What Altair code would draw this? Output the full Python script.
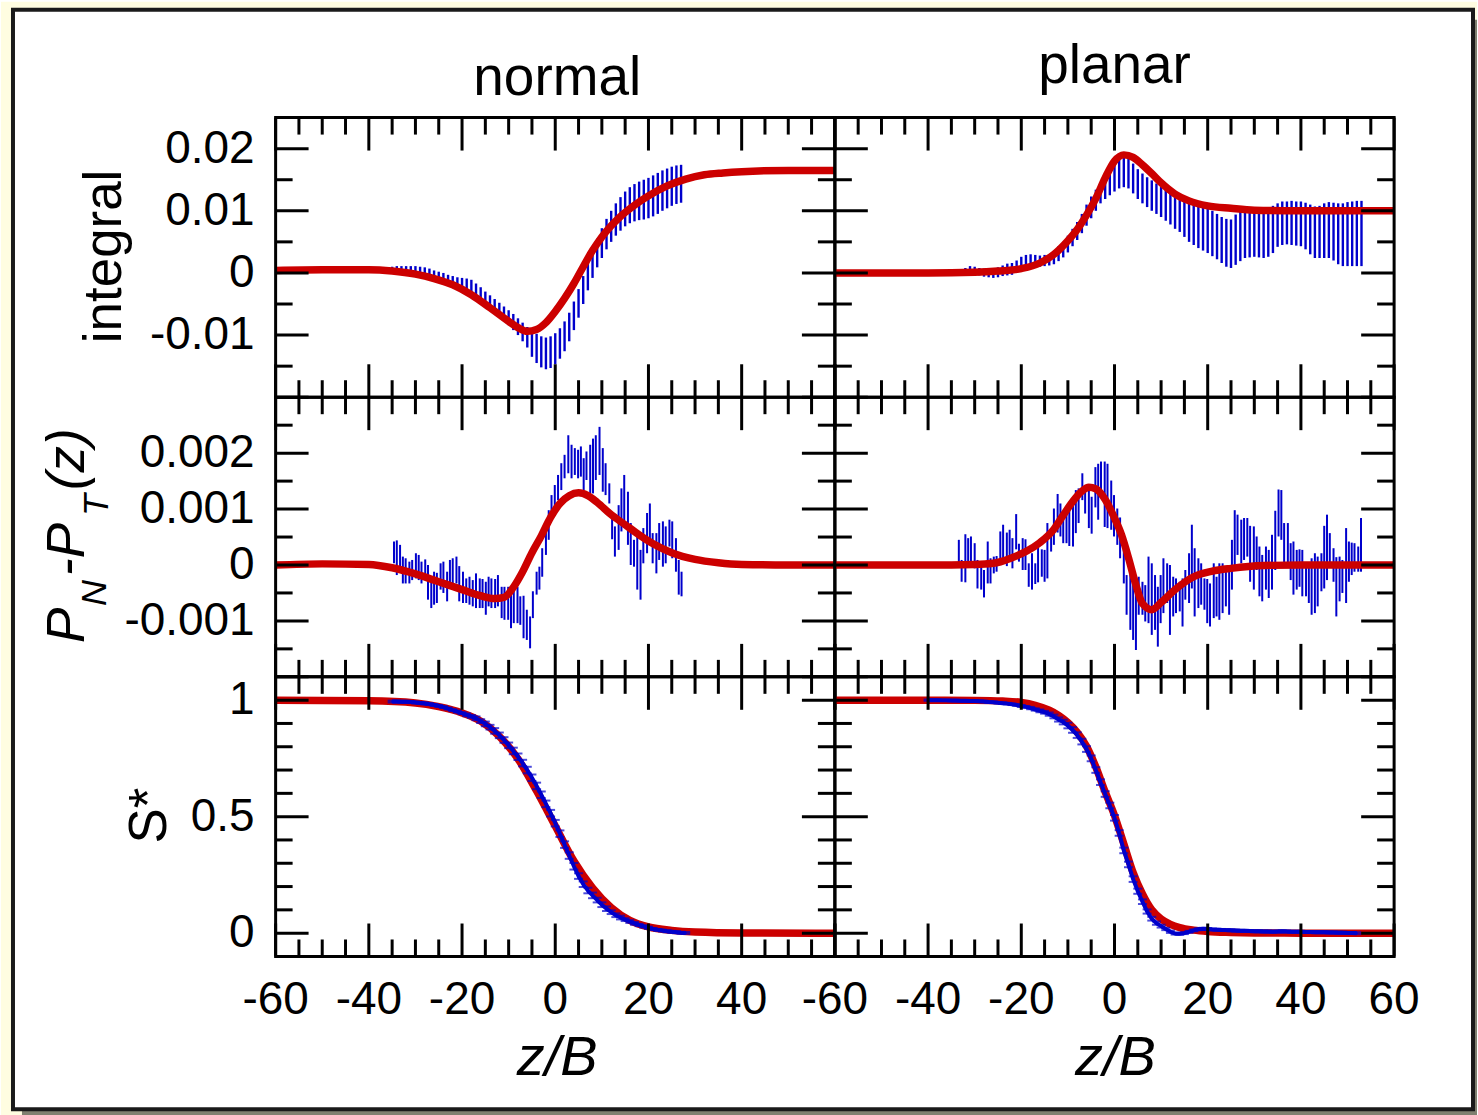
import altair as alt
import pandas as pd

FONT = "Liberation Sans"
RED = "#cc0000"
BLUE = "#0000cc"
PW, PH = 560, 280
MAJ_LEN, MIN_LEN = 33, 17

# ---------------- axes: ticks and labels ----------------
X_DOMAIN = [-60, 60]
X_MAJOR = [-60, -40, -20, 0, 20, 40, 60]
X_MINOR = [-55, -50, -45, -35, -30, -25, -15, -10, -5, 5, 10, 15, 25, 30, 35, 45, 50, 55]
X_LABELS_NORMAL = [-60, -40, -20, 0, 20, 40]
X_TEXT_NORMAL = ["-60", "-40", "-20", "0", "20", "40"]
X_LABELS_PLANAR = [-60, -40, -20, 0, 20, 40, 60]
X_TEXT_PLANAR = ["-60", "-40", "-20", "0", "20", "40", "60"]

INT_DOMAIN = [-0.02, 0.025]
INT_MAJOR = [-0.02, -0.01, 0.0, 0.01, 0.02]
INT_MINOR = [-0.015, -0.005, 0.005, 0.015]
INT_LABELS = [-0.01, 0.0, 0.01, 0.02]
INT_TEXT = ["-0.01", "0", "0.01", "0.02"]

PP_DOMAIN = [-0.002, 0.003]
PP_MAJOR = [-0.002, -0.001, 0.0, 0.001, 0.002]
PP_MINOR = [-0.0015, -0.0005, 0.0005, 0.0015, 0.0025]
PP_LABELS = [-0.001, 0.0, 0.001, 0.002]
PP_TEXT = ["-0.001", "0", "0.001", "0.002"]

S_DOMAIN = [-0.1, 1.1]
S_MAJOR = [0.0, 0.5, 1.0]
S_MINOR = [0.1, 0.2, 0.3, 0.4, 0.6, 0.7, 0.8, 0.9]
S_LABELS = [0.0, 0.5, 1.0]
S_TEXT = ["0", "0.5", "1"]

# ---------------- integral, normal ----------------
TL_RED_Z = [-60, -50, -40, -35, -30, -26, -22, -18, -14, -10, -8, -6, -4, -2, 0, 2, 4, 6, 8, 10,
            12, 14, 17, 20, 24, 28, 32, 36, 40, 50, 60]
TL_RED_V = [0.0004, 0.0005, 0.0005, 0.0003, -0.0002, -0.0009, -0.0019, -0.0035, -0.0056, -0.0078,
            -0.0088, -0.0094, -0.0091, -0.0080, -0.0062, -0.0041, -0.0017, 0.0010, 0.0036, 0.0058,
            0.0076, 0.0091, 0.0109, 0.0124, 0.0140, 0.0151, 0.0158, 0.0161, 0.0163, 0.0165, 0.0165]
TL_BAR_Z = [-35, -34, -33, -32, -31, -30, -29, -28, -27, -26, -25, -24, -23, -22, -21, -20, -19, -18,
            -17, -16, -15, -14, -13, -12, -11, -10, -9, -8, -7, -6, -5, -4, -3, -2, -1, 0, 1, 2, 3,
            4, 5, 6, 7, 8, 9, 10, 11, 12, 13, 14, 15, 16, 17, 18, 19, 20, 21, 22, 23, 24, 25, 26, 27]
TL_BAR_HI = [0.0010, 0.0011, 0.0011, 0.0011, 0.0011, 0.0011, 0.0010, 0.0009, 0.0007, 0.0004,
             0.0002, 0.0000, -0.0003, -0.0005, -0.0007, -0.0008, -0.0009, -0.0011, -0.0017, -0.0023,
             -0.0030, -0.0036, -0.0042, -0.0048, -0.0054, -0.0060, -0.0066, -0.0073, -0.0080, -0.0087,
             -0.0093, -0.0098, -0.0102, -0.0104, -0.0102, -0.0097, -0.0089, -0.0078, -0.0064, -0.0046,
             -0.0026, -0.0005, 0.0016, 0.0036, 0.0055, 0.0072, 0.0087, 0.0100, 0.0112, 0.0122,
             0.0131, 0.0138, 0.0143, 0.0147, 0.0150, 0.0153, 0.0157, 0.0161, 0.0165, 0.0168,
             0.0171, 0.0173, 0.0174]
TL_BAR_LO = [-0.0001, -0.0001, -0.0002, -0.0002, -0.0003, -0.0004, -0.0005, -0.0006, -0.0008, -0.0010,
             -0.0012, -0.0014, -0.0018, -0.0022, -0.0026, -0.0030, -0.0033, -0.0036, -0.0041, -0.0046,
             -0.0052, -0.0058, -0.0064, -0.0070, -0.0077, -0.0084, -0.0092, -0.0100, -0.0110, -0.0120,
             -0.0135, -0.0145, -0.0152, -0.0155, -0.0153, -0.0147, -0.0138, -0.0126, -0.0110, -0.0092,
             -0.0072, -0.0050, -0.0028, -0.0008, 0.0009, 0.0024, 0.0038, 0.0050, 0.0060, 0.0068,
             0.0075, 0.0080, 0.0083, 0.0085, 0.0086, 0.0088, 0.0091, 0.0095, 0.0100, 0.0104,
             0.0108, 0.0111, 0.0113]

# ---------------- integral, planar (values in units of 1e-4) ----------------
TR_RED_Z = [-60, -40, -30, -25, -20, -16, -13, -10, -8, -6, -4, -2, 0, 2, 4, 6, 8, 10, 13, 16, 20,
            25, 30, 40, 50, 60]
TR_RED_V = [0, 0, 1, 3, 7, 16, 30, 52, 70, 93, 120, 153, 180, 190, 186, 174, 160, 145, 127, 116, 108,
            104, 101, 100, 100, 100]
TR_BAR_Z = [-33, -32, -31, -30, -29, -28, -27, -26, -25, -24, -23, -22, -21, -20, -19, -18, -17, -16,
            -15, -14, -13, -12, -11, -10, -9, -8, -7, -6, -5, -4, -3, -2, -1, 0, 1, 2, 3, 4, 5, 6,
            7, 8, 9, 10, 11, 12, 13, 14, 15, 16, 17, 18, 19, 20, 21, 22, 23, 24, 25, 26, 27, 28, 29,
            30, 31, 32, 33, 34, 35, 36, 37, 38, 39, 40, 41, 42, 43, 44, 45, 46, 47, 48, 49, 50, 51,
            52, 53]
TR_BAR_HI = [6, 8, 11, 10, 8, 7, 8, 8, 9, 12, 15, 16, 20, 26, 29, 30, 29, 28, 29, 30,
             34, 43, 50, 60, 71, 82, 95, 110, 123, 134, 145, 158, 170, 180, 187, 189, 185, 176, 167, 160,
             154, 149, 144, 139, 135, 131, 128, 125, 121, 116, 113, 110, 107, 104, 100, 95, 90, 87, 86, 94,
             100, 104, 105, 105, 105, 105, 106, 108, 112, 115, 115, 116, 115, 115, 113, 110, 107, 108, 112, 114,
             113, 112, 112, 114, 115, 116, 116]
TR_BAR_LO = [-3, -2, -1, -3, -4, -6, -7, -8, -7, -5, -4, -3, 0, 6, 10, 11, 11, 10, 11, 12,
             14, 19, 25, 33, 43, 53, 64, 76, 88, 100, 112, 119, 125, 131, 136, 138, 136, 128, 119, 112,
             106, 100, 95, 90, 84, 78, 71, 66, 58, 50, 45, 40, 36, 32, 27, 22, 16, 10, 8, 13,
             19, 24, 25, 26, 25, 24, 26, 32, 42, 45, 46, 45, 44, 43, 38, 30, 24, 24, 24, 24,
             20, 14, 11, 11, 11, 11, 11]

# ---------------- PN-PT, normal (values in units of 1e-4) ----------------
ML_RED_Z = [-60, -50, -40, -35, -30, -25, -20, -16, -13, -11, -9, -7, -5, -3, -1, 1, 3, 5, 7, 9, 12,
            15, 18, 21, 25, 30, 35, 40, 50, 60]
ML_RED_V = [0, 0.2, 0.1, -0.5, -1.6, -3.0, -4.4, -5.5, -6.0, -5.8, -4.0, -1.2, 2.2, 5.2, 8.5, 11.0,
            12.4, 12.9, 12.4, 11.2, 9.0, 7.2, 5.4, 3.8, 2.2, 1.0, 0.4, 0.1, 0, 0]
ML_BAR_Z = [-34.6, -34.0, -33.3, -32.7, -32.1, -31.3, -30.7, -29.9, -29.3, -28.7,
            -27.9, -27.3, -26.6, -26.0, -25.4, -24.6, -24.0, -23.2, -22.6, -22.0,
            -21.2, -20.6, -19.8, -19.1, -18.4, -17.7, -17.0, -16.2, -15.6, -14.9,
            -14.3, -13.7, -12.9, -12.3, -11.5, -10.9, -10.1, -9.5, -8.9, -8.1,
            -7.5, -6.8, -6.1, -5.4, -4.8, -4.0, -3.4, -2.8, -2.0, -1.4,
            -0.8, -0.1, 0.6, 1.3, 2.0, 2.8, 3.5, 4.2, 4.9, 5.5,
            6.1, 6.7, 7.5, 8.1, 8.7, 9.5, 10.2, 10.8, 11.6, 12.2,
            12.8, 13.6, 14.2, 14.8, 15.6, 16.2, 16.9, 17.6, 18.3, 18.9,
            19.7, 20.3, 20.9, 21.7, 22.3, 23.1, 23.7, 24.5, 25.1, 25.9,
            26.5, 27.1]
ML_BAR_HI = [4.2, 4.4, 3.6, 1.5, 1.2, 0.6, 0.9, 2.1, 1.8, 0.6,
             1.0, 0.0, -2.1, -1.2, -1.4, 0.3, 0.6, -1.2, 0.9, 1.2,
             1.5, -0.2, -1.2, -2.4, -2.1, -2.7, -1.5, -2.4, -2.5, -3.0,
             -2.1, -2.4, -2.5, -1.8, -3.9, -3.9, -3.9, -4.4, -3.9, -3.9,
             -5.6, -5.5, -8.0, -9.2, -4.7, -1.2, -0.3, 3.0, 7.2, 9.8,
             12.5, 14.3, 16.1, 18.2, 19.7, 23.2, 21.5, 20.9, 20.6, 21.2,
             19.1, 20.3, 21.5, 22.6, 23.2, 24.7, 20.9, 18.2, 14.6, 8.4,
             6.9, 10.7, 13.7, 16.1, 13.1, 7.5, 4.5, 5.1, 2.7, 6.6,
             9.3, 11.0, 5.7, 5.7, 7.5, 7.8, 6.9, 8.1, 7.8, 4.8,
             0.9, -1.2]
ML_BAR_LO = [0.3, -1.8, -0.9, -3.3, -3.3, -3.3, -2.7, -2.4, -2.7, -3.3,
             -2.7, -6.2, -7.7, -7.1, -6.8, -4.4, -5.0, -6.5, -3.9, -3.9,
             -3.3, -6.5, -6.8, -6.8, -7.1, -7.4, -7.7, -7.7, -7.7, -8.9,
             -7.4, -7.7, -7.7, -7.4, -9.5, -9.8, -9.8, -11.3, -10.4, -10.4,
             -10.7, -13.1, -13.4, -14.9, -9.5, -5.3, -4.4, -2.1, 1.8, 4.5,
             8.1, 10.1, 11.6, 13.4, 15.5, 16.4, 15.5, 16.1, 15.5, 15.8,
             13.4, 15.2, 12.8, 12.8, 15.2, 16.1, 13.1, 12.5, 11.0, 4.6,
             1.5, 2.7, 6.0, 7.5, 3.6, 0.0, -0.3, -4.4, -6.2, 0.3,
             2.1, 4.2, 0.3, -1.5, 0.9, -0.3, 0.3, 3.3, 1.2, -1.2,
             -5.3, -5.6]

# ---------------- PN-PT, planar (values in units of 1e-4) ----------------
MR_RED_Z = [-60, -40, -30, -26, -22, -19, -16, -13, -11, -9, -7, -5.5, -4, -2, 0, 1.5, 3, 4.5, 6, 8,
            10, 13, 17, 21, 25, 32, 40, 60]
MR_RED_V = [0, 0, 0.1, 0.3, 1.3, 2.4, 4.0, 6.4, 8.9, 11.3, 13.2, 13.9, 13.6, 11.7, 8.4, 5.4, 1.3,
            -3.3, -6.9, -8.0, -6.7, -4.4, -2.1, -1.1, -0.6, -0.1, 0, 0]
MR_BAR_Z = [-33.4, -32.8, -32.0, -31.4, -30.8, -30.0, -29.4, -28.6, -28.0, -27.2,
            -26.6, -25.9, -25.3, -24.5, -23.9, -23.1, -22.5, -21.9, -21.1, -20.5,
            -19.7, -19.1, -18.4, -17.7, -17.0, -16.4, -15.6, -15.0, -14.4, -13.6,
            -13.0, -12.2, -11.6, -11.0, -10.3, -9.7, -8.9, -8.3, -7.7, -6.9,
            -6.3, -5.5, -4.9, -4.1, -3.5, -2.9, -2.1, -1.5, -0.7, -0.1,
            0.6, 1.2, 2.0, 2.6, 3.4, 4.0, 4.6, 5.2, 6.0, 6.6,
            7.3, 8.0, 8.7, 9.3, 9.9, 10.5, 11.3, 11.9, 12.6, 13.2,
            14.0, 14.6, 15.2, 16.0, 16.6, 17.2, 18.0, 18.6, 19.3, 19.9,
            20.5, 21.3, 21.9, 22.5, 23.2, 23.9, 24.6, 25.2, 25.8, 26.4,
            27.2, 27.8, 28.5, 29.1, 29.9, 30.5, 31.1, 31.7, 32.5, 33.1,
            33.8, 34.5, 35.2, 35.8, 36.4, 37.2, 37.8, 38.4, 39.1, 39.7,
            40.3, 41.1, 41.7, 42.3, 43.0, 43.6, 44.4, 45.0, 45.6, 46.2,
            47.0, 47.6, 48.3, 48.9, 49.7, 50.3, 50.9, 51.5, 52.3, 52.9]
MR_BAR_HI = [4.5, 0.9, 5.5, 4.8, 5.1, 3.9, 0.9, 0.3, -0.9, 4.2,
             1.2, 1.5, 1.6, 6.0, 7.2, 5.8, 6.3, 4.8, 9.1, 3.8,
             4.8, 4.6, 0.3, 2.1, 0.3, 3.8, 2.8, 2.7, 7.5, 6.3,
             10.1, 12.7, 11.0, 8.1, 9.5, 9.7, 11.5, 13.4, 13.7, 16.4,
             13.4, 13.7, 12.2, 17.5, 18.1, 18.5, 18.5, 18.1, 15.1, 12.5,
             10.1, 8.5, 3.6, -1.8, 0.3, -3.0, -3.6, -2.1, -3.0, -3.6,
             1.5, 0.3, -1.8, -3.9, -1.8, 1.2, 0.3, 0.0, -2.1, -2.4,
             -3.0, -2.4, -0.9, 2.1, 7.2, 3.0, 1.2, 0.3, -2.4, -2.5,
             -3.3, 0.3, -2.1, 0.3, 0.3, -0.3, -0.3, 4.5, 9.8, 9.0,
             8.1, 8.4, 8.4, 7.0, 6.9, 5.1, 3.3, 1.8, 3.3, 2.7,
             5.4, 9.7, 13.5, 13.4, 7.5, 7.5, 3.9, 4.2, 2.7, 2.8,
             2.7, -0.3, 0.2, 1.2, 2.1, 1.5, 2.1, 7.0, 9.0, 5.7,
             3.0, 1.4, 1.5, 0.9, 6.6, 4.2, 4.0, 3.9, 3.3, 8.4]
MR_BAR_LO = [-0.3, -3.0, -3.1, -0.3, -0.3, -0.6, -4.2, -4.4, -5.8, -3.3,
             -3.3, -1.5, -1.2, 0.6, 0.3, -0.2, 1.2, -0.6, 2.8, 0.6,
             -0.9, -0.9, -3.9, -4.4, -3.4, -3.1, -2.1, -3.0, -2.4, 2.4,
             3.6, 5.8, 5.1, 3.9, 3.9, 3.4, 3.3, 5.7, 7.5, 11.6,
             9.2, 6.6, 5.6, 10.3, 8.1, 13.4, 6.8, 6.6, 6.3, 5.1,
             3.6, 1.2, -3.3, -8.9, -11.6, -13.4, -15.2, -8.9, -8.9, -10.1,
             -10.4, -12.5, -11.6, -14.6, -10.4, -8.6, -6.8, -12.5, -9.2, -8.6,
             -8.3, -11.0, -6.2, -6.8, -4.2, -9.2, -7.7, -7.1, -8.0, -10.4,
             -11.0, -9.5, -9.2, -9.8, -8.6, -7.4, -8.9, -4.4, -0.6, 1.8,
             0.3, 0.9, 1.5, -3.0, -4.4, -0.9, -5.6, -6.5, -4.4, -5.9,
             -4.4, -0.9, 5.1, 4.5, 0.3, -0.3, -2.7, -5.3, -4.4, -3.9,
             -5.6, -5.6, -6.8, -8.9, -8.6, -7.4, -4.7, -4.2, -2.7, 0.0,
             -3.0, -9.2, -6.5, -5.0, -6.8, -3.0, -1.8, -1.2, -1.2, -1.2]

# ---------------- S*, normal ----------------
BL_RED_Z = [-60, -40, -30, -25, -20, -16, -12, -8, -4, 0, 4, 8, 12, 16, 20, 25, 30, 40, 60]
BL_RED_V = [1.0, 0.997, 0.988, 0.972, 0.945, 0.91, 0.845, 0.748, 0.61, 0.46, 0.31, 0.195, 0.11,
            0.055, 0.027, 0.012, 0.005, 0.001, 0.0]
BL_BLUE_Z = [-35, -34, -33, -32, -31, -30, -29, -28, -27, -26, -25, -24, -23, -22, -21, -20, -19,
             -18, -17, -16, -15, -14, -13, -12, -11, -10, -9, -8, -7, -6, -5, -4, -3, -2, -1, 0,
             1, 2, 3, 4, 5, 6, 7, 8, 9, 10, 11, 12, 13, 14, 15, 16, 17, 18, 19, 20, 21, 22, 23,
             24, 25, 26, 27, 28]
BL_BLUE_V = [0.994, 0.994, 0.993, 0.993, 0.992, 0.990, 0.988, 0.986, 0.983, 0.979,
             0.975, 0.970, 0.964, 0.957, 0.951, 0.944, 0.937, 0.930, 0.922, 0.910,
             0.898, 0.884, 0.868, 0.849, 0.829, 0.806, 0.782, 0.757, 0.730, 0.700,
             0.667, 0.632, 0.594, 0.555, 0.515, 0.472, 0.427, 0.380, 0.333, 0.287,
             0.245, 0.210, 0.183, 0.162, 0.142, 0.122, 0.105, 0.090, 0.077, 0.067,
             0.058, 0.050, 0.042, 0.035, 0.029, 0.023, 0.018, 0.014, 0.011, 0.008,
             0.006, 0.004, 0.002, 0.001]
BL_BLUE_ERR = [0.004, 0.004, 0.004, 0.004, 0.004, 0.004, 0.004, 0.004, 0.004, 0.004,
               0.004, 0.004, 0.004, 0.004, 0.004, 0.004, 0.006, 0.006, 0.008, 0.008,
               0.010, 0.010, 0.012, 0.012, 0.012, 0.012, 0.014, 0.014, 0.014, 0.014,
               0.014, 0.014, 0.014, 0.014, 0.014, 0.014, 0.014, 0.014, 0.014, 0.014,
               0.012, 0.012, 0.012, 0.012, 0.010, 0.010, 0.010, 0.008, 0.008, 0.008,
               0.006, 0.006, 0.006, 0.005, 0.005, 0.005, 0.004, 0.004, 0.004, 0.004,
               0.004, 0.004, 0.004, 0.004]

# ---------------- S*, planar ----------------
BR_RED_Z = [-60, -40, -30, -24, -20, -17, -14, -12, -10, -8, -6, -4, -2, 0, 2, 4, 6, 8, 10, 12,
            14, 17, 20, 25, 30, 40, 60]
BR_RED_V = [1.0, 1.0, 0.999, 0.996, 0.99, 0.978, 0.957, 0.935, 0.904, 0.862, 0.802, 0.713, 0.606,
            0.505, 0.383, 0.26, 0.168, 0.1, 0.061, 0.038, 0.024, 0.013, 0.007, 0.003, 0.001, 0.0, 0.0]
BR_BLUE_Z = [-40, -39, -38, -37, -36, -35, -34, -33, -32, -31, -30, -29, -28, -27, -26, -25, -24,
             -23, -22, -21, -20, -19, -18, -17, -16, -15, -14, -13, -12, -11, -10, -9, -8, -7, -6,
             -5, -4, -3, -2, -1, 0, 1, 2, 3, 4, 5, 6, 7, 8, 9, 10, 11, 12, 13, 14, 15, 16, 17, 18,
             19, 20, 21, 22, 23, 24, 25, 26, 27, 28, 29, 30, 31, 32, 33, 34, 35, 36, 37, 38, 39,
             40, 41, 42, 43, 44, 45, 46, 47, 48, 49, 50, 51, 52]
BR_BLUE_V = [1.000, 1.000, 1.000, 0.999, 0.999, 0.998, 0.998, 0.997, 0.997, 0.996,
             0.996, 0.995, 0.994, 0.992, 0.991, 0.989, 0.987, 0.985, 0.982, 0.979,
             0.975, 0.971, 0.966, 0.960, 0.954, 0.948, 0.940, 0.930, 0.917, 0.906,
             0.891, 0.872, 0.850, 0.822, 0.790, 0.750, 0.700, 0.648, 0.597, 0.548,
             0.495, 0.430, 0.355, 0.295, 0.232, 0.180, 0.135, 0.093, 0.062, 0.043,
             0.030, 0.018, 0.006, -0.002, -0.003, 0.000, 0.006, 0.012, 0.017, 0.019,
             0.018, 0.016, 0.015, 0.014, 0.013, 0.012, 0.011, 0.010, 0.010, 0.009,
             0.008, 0.008, 0.007, 0.007, 0.006, 0.007, 0.008, 0.007, 0.006, 0.006,
             0.006, 0.005, 0.005, 0.004, 0.004, 0.004, 0.003, 0.003, 0.002, 0.002,
             0.001, 0.001, 0.000]
BR_BLUE_ERR = [0.003, 0.003, 0.003, 0.003, 0.003, 0.003, 0.003, 0.003, 0.003, 0.003,
               0.003, 0.003, 0.003, 0.003, 0.003, 0.003, 0.003, 0.003, 0.003, 0.003,
               0.004, 0.004, 0.005, 0.005, 0.006, 0.006, 0.007, 0.008, 0.009, 0.010,
               0.012, 0.012, 0.012, 0.012, 0.012, 0.012, 0.012, 0.012, 0.012, 0.012,
               0.012, 0.012, 0.012, 0.012, 0.012, 0.011, 0.010, 0.009, 0.008, 0.007,
               0.006, 0.005, 0.005, 0.004, 0.004, 0.004, 0.004, 0.004, 0.004, 0.004,
               0.004, 0.004, 0.004, 0.004, 0.004, 0.004, 0.004, 0.004, 0.004, 0.004,
               0.004, 0.004, 0.004, 0.004, 0.004, 0.004, 0.004, 0.004, 0.004, 0.004,
               0.004, 0.004, 0.004, 0.004, 0.004, 0.004, 0.004, 0.004, 0.004, 0.004,
               0.004, 0.004, 0.004]

UNIT = 1e-4  # TR, ML and MR arrays are given in units of 1e-4

for a, b in [(TL_RED_Z, TL_RED_V), (TL_BAR_Z, TL_BAR_HI), (TL_BAR_Z, TL_BAR_LO),
             (TR_RED_Z, TR_RED_V), (TR_BAR_Z, TR_BAR_HI), (TR_BAR_Z, TR_BAR_LO),
             (ML_RED_Z, ML_RED_V), (ML_BAR_Z, ML_BAR_HI), (ML_BAR_Z, ML_BAR_LO),
             (MR_RED_Z, MR_RED_V), (MR_BAR_Z, MR_BAR_HI), (MR_BAR_Z, MR_BAR_LO),
             (BL_RED_Z, BL_RED_V), (BL_BLUE_Z, BL_BLUE_V), (BL_BLUE_Z, BL_BLUE_ERR),
             (BR_RED_Z, BR_RED_V), (BR_BLUE_Z, BR_BLUE_V), (BR_BLUE_Z, BR_BLUE_ERR)]:
    assert len(a) == len(b), (len(a), len(b))

ONE = pd.DataFrame({"a": [0]})


def xs():
    return alt.Scale(domain=X_DOMAIN, nice=False, zero=False)


def ys(d):
    return alt.Scale(domain=d, nice=False, zero=False)


def red_layer(z, v, ydom):
    df = pd.DataFrame({"z": z, "v": v})
    return alt.Chart(df).mark_line(color=RED, strokeWidth=7.5, interpolate="monotone").encode(
        x=alt.X("z:Q", scale=xs(), axis=None),
        y=alt.Y("v:Q", scale=ys(ydom), axis=None))


def bar_layer(z, lo, hi, ydom, width=2.0):
    df = pd.DataFrame({"z": z, "lo": lo, "hi": hi})
    return alt.Chart(df).mark_rule(color=BLUE, strokeWidth=width).encode(
        x=alt.X("z:Q", scale=xs(), axis=None),
        y=alt.Y("lo:Q", scale=ys(ydom), axis=None),
        y2="hi:Q")


def s_blue_layers(z, v, err, ydom):
    df = pd.DataFrame({"z": z, "v": v,
                       "lo": [a - e for a, e in zip(v, err)],
                       "hi": [a + e for a, e in zip(v, err)]})
    base = alt.Chart(df)
    line = base.mark_line(color=BLUE, strokeWidth=4).encode(
        x=alt.X("z:Q", scale=xs(), axis=None), y=alt.Y("v:Q", scale=ys(ydom), axis=None))
    bars = base.mark_rule(color=BLUE, strokeWidth=2).encode(
        x=alt.X("z:Q", scale=xs(), axis=None), y=alt.Y("lo:Q", scale=ys(ydom), axis=None),
        y2="hi:Q")
    cap_hi = base.mark_tick(color=BLUE, orient="horizontal", size=9, thickness=2).encode(
        x=alt.X("z:Q", scale=xs(), axis=None), y=alt.Y("hi:Q", scale=ys(ydom), axis=None))
    cap_lo = base.mark_tick(color=BLUE, orient="horizontal", size=9, thickness=2).encode(
        x=alt.X("z:Q", scale=xs(), axis=None), y=alt.Y("lo:Q", scale=ys(ydom), axis=None))
    return [line, bars, cap_hi, cap_lo]


def tick_layers(ydom, ymaj, ymin):
    out = []
    for vals, ln in ((X_MAJOR, MAJ_LEN), (X_MINOR, MIN_LEN)):
        base = alt.Chart(pd.DataFrame({"t": vals})).mark_rule(color="black", strokeWidth=3)
        out.append(base.encode(x=alt.X("t:Q", scale=xs(), axis=None),
                               y=alt.value(0), y2=alt.value(ln)))
        out.append(base.encode(x=alt.X("t:Q", scale=xs(), axis=None),
                               y=alt.value(PH), y2=alt.value(PH - ln)))
    for vals, ln in ((ymaj, MAJ_LEN), (ymin, MIN_LEN)):
        base = alt.Chart(pd.DataFrame({"t": vals})).mark_rule(color="black", strokeWidth=3)
        out.append(base.encode(y=alt.Y("t:Q", scale=ys(ydom), axis=None),
                               x=alt.value(0), x2=alt.value(ln)))
        out.append(base.encode(y=alt.Y("t:Q", scale=ys(ydom), axis=None),
                               x=alt.value(PW), x2=alt.value(PW - ln)))
    return out


def x_labels(vals, texts):
    df = pd.DataFrame({"t": vals, "s": texts})
    return alt.Chart(df).mark_text(font=FONT, fontSize=46, color="black", align="center",
                                   baseline="alphabetic").encode(
        x=alt.X("t:Q", scale=xs(), axis=None), y=alt.value(PH + 58), text="s:N")


def y_labels(vals, texts, ydom):
    df = pd.DataFrame({"t": vals, "s": texts})
    return alt.Chart(df).mark_text(font=FONT, fontSize=46, color="black", align="right",
                                   baseline="middle").encode(
        y=alt.Y("t:Q", scale=ys(ydom), axis=None), x=alt.value(-21), text="s:N")


def frame_layer():
    return alt.Chart(ONE).mark_rect(fill="transparent", stroke="black", strokeWidth=3).encode(
        x=alt.value(0), x2=alt.value(PW), y=alt.value(0), y2=alt.value(PH))


def text_layer(text, x, y, size, italic=False, angle=0, align="center"):
    kw = dict(text=text, font=FONT, fontSize=size, color="black", align=align,
              baseline="alphabetic", angle=angle)
    if italic:
        kw["fontStyle"] = "italic"
    return alt.Chart(ONE).mark_text(**kw).encode(x=alt.value(x), y=alt.value(y))


def scale_list(vals):
    return [v * UNIT for v in vals]


# ---------------- page background (drawn inside first panel) ----------------
background = [
    alt.Chart(ONE).mark_rect(color="#fffde1").encode(
        x=alt.value(-275), x2=alt.value(1203), y=alt.value(-116), y2=alt.value(999)),
    alt.Chart(ONE).mark_rect(color="#808070").encode(
        x=alt.value(-254), x2=alt.value(1203), y=alt.value(-98), y2=alt.value(999)),
    alt.Chart(ONE).mark_rect(fill="white", stroke="#1a1a1a", strokeWidth=4).encode(
        x=alt.value(-263), x2=alt.value(1199), y=alt.value(-108), y2=alt.value(993)),
]

# ---------------- panels ----------------
tl = alt.layer(
    *background,
    bar_layer(TL_BAR_Z, TL_BAR_LO, TL_BAR_HI, INT_DOMAIN, width=2.4),
    red_layer(TL_RED_Z, TL_RED_V, INT_DOMAIN),
    *tick_layers(INT_DOMAIN, INT_MAJOR, INT_MINOR),
    frame_layer(),
    y_labels(INT_LABELS, INT_TEXT, INT_DOMAIN),
    text_layer("integral", -155, 139, 53, angle=270),
    text_layer("normal", 282, -23, 55),
).properties(width=PW, height=PH)

tr = alt.layer(
    bar_layer(TR_BAR_Z, scale_list(TR_BAR_LO), scale_list(TR_BAR_HI), INT_DOMAIN, width=2.4),
    red_layer(TR_RED_Z, scale_list(TR_RED_V), INT_DOMAIN),
    *tick_layers(INT_DOMAIN, INT_MAJOR, INT_MINOR),
    frame_layer(),
    text_layer("planar", 280, -35, 55),
).properties(width=PW, height=PH)

ml = alt.layer(
    bar_layer(ML_BAR_Z, scale_list(ML_BAR_LO), scale_list(ML_BAR_HI), PP_DOMAIN),
    red_layer(ML_RED_Z, scale_list(ML_RED_V), PP_DOMAIN),
    *tick_layers(PP_DOMAIN, PP_MAJOR, PP_MINOR),
    frame_layer(),
    y_labels(PP_LABELS, PP_TEXT, PP_DOMAIN),
    text_layer("P", -192, 246, 53, italic=True, angle=270, align="left"),
    text_layer("N", -170, 209, 36, italic=True, angle=270, align="left"),
    text_layer("-P", -192, 179, 53, italic=True, angle=270, align="left"),
    text_layer("T", -168, 119, 36, italic=True, angle=270, align="left"),
    text_layer("(z)", -192, 93, 53, italic=True, angle=270, align="left"),
).properties(width=PW, height=PH)

mr = alt.layer(
    bar_layer(MR_BAR_Z, scale_list(MR_BAR_LO), scale_list(MR_BAR_HI), PP_DOMAIN),
    red_layer(MR_RED_Z, scale_list(MR_RED_V), PP_DOMAIN),
    *tick_layers(PP_DOMAIN, PP_MAJOR, PP_MINOR),
    frame_layer(),
).properties(width=PW, height=PH)

bl = alt.layer(
    red_layer(BL_RED_Z, BL_RED_V, S_DOMAIN),
    *s_blue_layers(BL_BLUE_Z, BL_BLUE_V, BL_BLUE_ERR, S_DOMAIN),
    *tick_layers(S_DOMAIN, S_MAJOR, S_MINOR),
    frame_layer(),
    y_labels(S_LABELS, S_TEXT, S_DOMAIN),
    x_labels(X_LABELS_NORMAL, X_TEXT_NORMAL),
    text_layer("S*", -110, 139, 53, angle=270),
    text_layer("z/B", 282, PH + 119, 56, italic=True),
).properties(width=PW, height=PH)

br = alt.layer(
    red_layer(BR_RED_Z, BR_RED_V, S_DOMAIN),
    *s_blue_layers(BR_BLUE_Z, BR_BLUE_V, BR_BLUE_ERR, S_DOMAIN),
    *tick_layers(S_DOMAIN, S_MAJOR, S_MINOR),
    frame_layer(),
    x_labels(X_LABELS_PLANAR, X_TEXT_PLANAR),
    text_layer("z/B", 281, PH + 119, 56, italic=True),
).properties(width=PW, height=PH)

chart = alt.concat(
    tl, tr, ml, mr, bl, br, columns=2, spacing=0, bounds="flush", padding=0
).configure(font=FONT).configure_view(stroke="transparent")

chart.save("out.html", embed_options={"renderer": "svg", "actions": False})
